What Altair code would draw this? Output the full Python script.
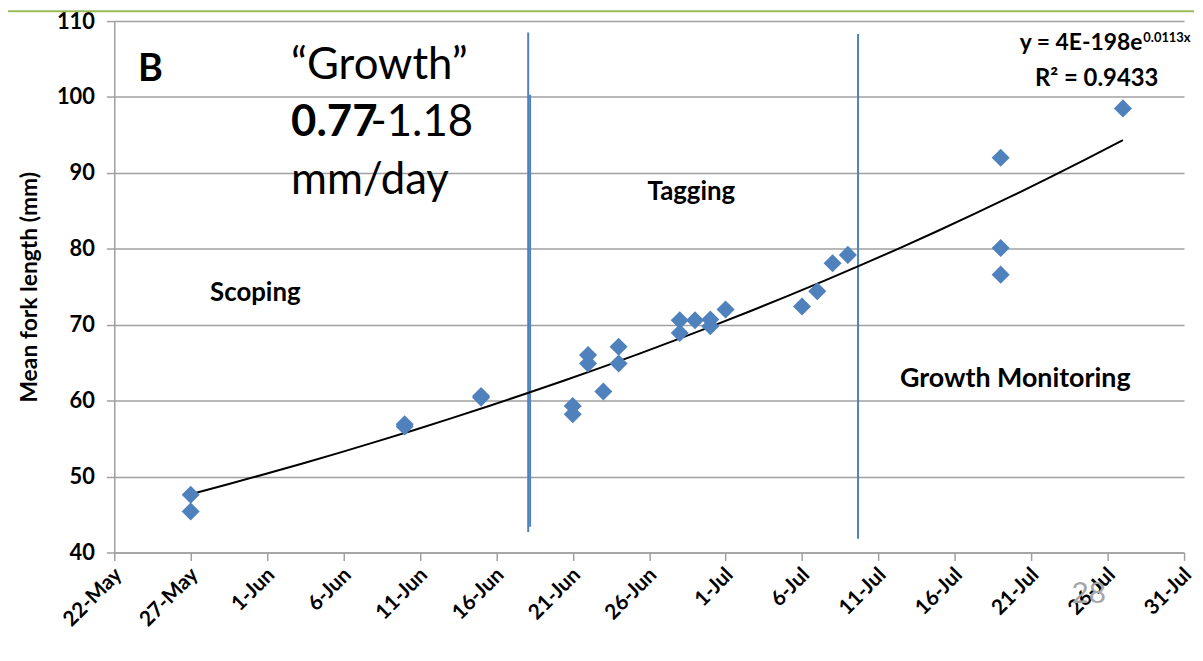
import altair as alt
import pandas as pd

# ---- data ----
dates = ["2011-05-27", "2011-05-27", "2011-06-10", "2011-06-10", "2011-06-15", "2011-06-15",
         "2011-06-21", "2011-06-21", "2011-06-22", "2011-06-22", "2011-06-23", "2011-06-24", "2011-06-24",
         "2011-06-28", "2011-06-28", "2011-06-29", "2011-06-30", "2011-06-30", "2011-07-01",
         "2011-07-06", "2011-07-07", "2011-07-08", "2011-07-09",
         "2011-07-19", "2011-07-19", "2011-07-19", "2011-07-27"]
lengths = [47.6, 45.4, 56.9, 56.6, 60.6, 60.4,
           59.3, 58.2, 66.0, 64.9, 61.2, 67.1, 64.9,
           70.6, 68.9, 70.6, 70.7, 69.8, 72.0,
           72.4, 74.4, 78.1, 79.2,
           92.0, 80.1, 76.6, 98.5]

# phase boundary lines (Scoping | Tagging | Growth Monitoring)
phase_dates = ["2011-06-18T02:00:00Z", "2011-06-18T05:00:00Z", "2011-07-09T16:00:00Z"]
phase_top = [108.5, 100.3, 108.3]
phase_bottom = [42.7, 43.4, 41.8]

tick_dates = ["2011-05-22", "2011-05-27", "2011-06-01", "2011-06-06", "2011-06-11", "2011-06-16",
              "2011-06-21", "2011-06-26", "2011-07-01", "2011-07-06", "2011-07-11", "2011-07-16",
              "2011-07-21", "2011-07-26", "2011-07-31"]
y_ticks = [40, 50, 60, 70, 80, 90, 100, 110]


def ms(s):
    return int(pd.Timestamp(s).value // 10**6)


tick_ms = [ms(s) for s in tick_dates]

df = pd.DataFrame({"date": dates, "length": lengths})
phases = pd.DataFrame({"date": phase_dates, "top": phase_top, "bottom": phase_bottom})

FONT = "Lato"
BLUE = "#4F81BD"
GRID = "#A0A0A0"

xscale = alt.Scale(type="utc", domain=[tick_ms[0], tick_ms[-1]])
yscale = alt.Scale(domain=[40, 110])

xaxis = alt.Axis(values=tick_ms, labelExpr="utcFormat(datum.value, '%-d-%b')", labelAngle=-45,
                 labelBaseline="middle", labelAlign="right", labelOffset=4,
                 grid=False, tickSize=8, labelPadding=11, title=None, labelFontSize=21)
yaxis = alt.Axis(values=y_ticks, grid=True, tickSize=8, labelPadding=12, labelFontSize=22,
                 title="Mean fork length (mm)", titlePadding=15, titleFontSize=23)

points = alt.Chart(df).mark_point(shape="diamond", filled=True, size=330, color=BLUE, opacity=1).encode(
    x=alt.X("date:T", scale=xscale, axis=xaxis),
    y=alt.Y("length:Q", scale=yscale, axis=yaxis),
)

trend = alt.Chart(df).transform_calculate(
    t="toDate(datum.date)"
).transform_regression("t", "length", method="exp").mark_line(color="black", strokeWidth=2).encode(
    x=alt.X("t:T", scale=xscale, axis=xaxis),
    y=alt.Y("length:Q", scale=yscale, axis=yaxis),
)

rules = alt.Chart(phases).mark_rule(color=BLUE, strokeWidth=2).encode(
    x=alt.X("date:T", scale=xscale, axis=xaxis),
    y=alt.Y("top:Q", scale=yscale, axis=yaxis),
    y2="bottom:Q",
)

one = alt.Data(values=[{}])


def label(text, x, y, size, weight="normal", align="left", color="black", baseline="alphabetic"):
    return alt.Chart(one).mark_text(
        text=text, font=FONT, fontSize=size, fontWeight=weight, align=align,
        baseline=baseline, color=color
    ).encode(x=alt.value(x), y=alt.value(y))


annotations = [
    label("B", 24, 60, 38, "bold"),
    label("\u201cGrowth\u201d", 178, 58, 44),
    label("0.77", 178, 116, 44, "bold"),
    label("-1.18", 258, 116, 44),
    label("mm/day", 178, 174, 44),
    label("Scoping", 142, 282, 26, "bold", "center"),
    label("Tagging", 581, 180, 26, "bold", "center"),
    label("Growth Monitoring", 907, 368, 27, "bold", "center"),
    label("y = 4E-198e", 1035, 29, 23, "bold", "right"),
    label("0.0113x", 1036, 21, 13, "bold", "left"),
    label("R\u00b2 = 0.9433", 989, 65, 24, "bold", "center"),
    label("28", 981, 586, 30, "normal", "center", "#A6A6A6"),
]

topline = alt.Chart(one).mark_rule(color="#9BBB59", strokeWidth=2).encode(
    x=alt.value(-107), x2=alt.value(1087), y=alt.value(-10)
)

chart = alt.layer(rules, trend, points, *annotations, topline).properties(
    width=1077, height=535,
    padding={"left": 107, "top": 11, "right": 11, "bottom": 95},
    autosize=alt.AutoSizeParams(type="none"),
).configure_view(stroke=None).configure_axis(
    labelFont=FONT, labelFontWeight="bold", labelColor="black",
    titleFont=FONT, titleFontWeight="bold", titleColor="black",
    domainColor=GRID, tickColor=GRID, gridColor=GRID, domainWidth=1.5, gridWidth=1.5, tickWidth=1.5,
)

chart.save("out.html", embed_options={"renderer": "svg", "actions": False})
